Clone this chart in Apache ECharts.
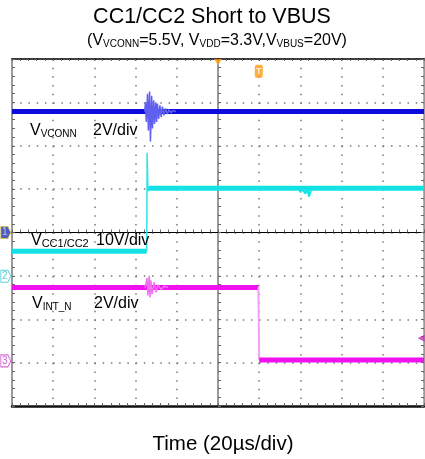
<!DOCTYPE html>
<html><head><meta charset="utf-8">
<script src="https://cdn.jsdelivr.net/npm/echarts@6/dist/echarts.min.js"></script>
<style>html,body{margin:0;padding:0;background:#fff}#c{width:425px;height:459px}</style>
</head><body><div id="c"></div>
<script>
// Axis ranges in divisions (10 x 8 graticule)
const xRange = [-5, 5];
const yRange = [-4, 4];
// V_VCONN trace (div units)
const vconnBase = [[-5, 2.79], [5, 2.79]];
const vconnBurst = [[-1.78,2.79],[-1.76,3.0],[-1.74,2.55],[-1.71,3.2],[-1.69,2.35],[-1.66,3.25],[-1.64,2.1],[-1.61,3.15],[-1.59,2.4],[-1.56,3.05],[-1.54,2.5],[-1.51,3.0],[-1.49,2.55],[-1.47,2.97],[-1.44,2.62],[-1.41,2.93],[-1.38,2.66],[-1.35,2.9],[-1.31,2.7],[-1.27,2.86],[-1.23,2.73],[-1.19,2.83],[-1.14,2.76],[-1.09,2.81],[-1.02,2.79]];
// V_CC1/CC2 trace
const ccLow = [[-5, -0.43], [-1.73, -0.43]];
const ccEdge = [[-1.73,-0.43],[-1.72,1.84],[-1.70,0.95],[-1.68,1.04]];
const ccHigh = [[-1.69,1.02],[5,1.02]];
const ccDip = [[1.97,1.02],[2.0,0.93],[2.04,1.0],[2.12,0.9],[2.17,1.0],[2.21,0.83],[2.25,0.97],[2.29,1.02]];
// V_INT_N trace
const intHigh = [[-5, -1.27], [0.98, -1.27]];
const intBurst = [[-1.77,-1.27],[-1.72,-1.05],[-1.70,-1.45],[-1.67,-1.0],[-1.65,-1.5],[-1.63,-1.1],[-1.60,-1.42],[-1.55,-1.15],[-1.50,-1.38],[-1.46,-1.2],[-1.38,-1.32],[-1.31,-1.24],[-1.21,-1.27]];
const intEdge = [[0.98,-1.27],[1.0,-2.94]];
const intLow = [[1.0,-2.94],[5,-2.94]];
// Scope markers
const channelMarkers = [[-5.15, 0, '1'], [-5.15, -1.01, '2'], [-5.15, -2.96, '3']];
const triggerPos = [[0, 4]];
const triggerLevel = [[0.99, 3.72]];
const refArrow = [[4.93, -2.44]];

const chart = echarts.init(document.getElementById('c'), null, {renderer: 'canvas'});
const FONT = '"Liberation Sans", Arial, sans-serif';

function baseAxis(extra) {
  return Object.assign({
    type: 'value', axisLabel: {show: false}, splitLine: {show: false}
  }, extra);
}
function line(data, color, width, z) {
  return {type: 'line', data: data, xAxisIndex: 0, yAxisIndex: 0, symbol: 'none', showSymbol: false,
    lineStyle: {color: color, width: width}, itemStyle: {color: color}, z: z, silent: true, animation: false, clip: true};
}
const tickStyle = {color: '#666', width: 1};

const option = {
  animation: false,
  grid: {left: 12, top: 59, width: 412, height: 347, show: false, outerBoundsMode: 'none', containLabel: false},
  xAxis: [
    baseAxis({min: xRange[0], max: xRange[1], interval: 1,
      axisLine: {onZero: true, onZeroAxisIndex: 0, lineStyle: {color: '#000', width: 1}},
      axisTick: {show: true, inside: true, length: 3, lineStyle: tickStyle},
      minorTick: {show: true, splitNumber: 5, length: 3, lineStyle: tickStyle},
      splitLine: {show: true, lineStyle: {color: '#777', width: 1.5, type: [1.5, 7.18]}}}),
    baseAxis({min: xRange[0], max: xRange[1], interval: 1, position: 'top',
      axisLine: {onZero: false, lineStyle: {color: '#000', width: 1.5}},
      axisTick: {show: true, inside: true, length: 2, lineStyle: tickStyle},
      minorTick: {show: true, splitNumber: 5, length: 2, lineStyle: tickStyle}}),
    baseAxis({min: xRange[0], max: xRange[1], interval: 1, position: 'bottom',
      axisLine: {onZero: false, lineStyle: {color: '#111', width: 2.5}},
      axisTick: {show: true, inside: true, length: 3, lineStyle: tickStyle},
      minorTick: {show: true, splitNumber: 5, length: 3, lineStyle: tickStyle}})
  ],
  yAxis: [
    baseAxis({min: yRange[0], max: yRange[1], interval: 1,
      axisLine: {onZero: true, onZeroAxisIndex: 0, lineStyle: {color: '#999', width: 2}},
      axisTick: {show: true, inside: true, length: 3, lineStyle: tickStyle},
      minorTick: {show: true, splitNumber: 5, length: 3, lineStyle: tickStyle},
      splitLine: {show: true, lineStyle: {color: '#777', width: 1.5, type: [1.5, 6.74]}}}),
    baseAxis({min: yRange[0], max: yRange[1], interval: 1, position: 'left',
      axisLine: {onZero: false, lineStyle: {color: '#999', width: 2}},
      axisTick: {show: true, inside: true, length: 3, lineStyle: tickStyle},
      minorTick: {show: true, splitNumber: 5, length: 3, lineStyle: tickStyle}}),
    baseAxis({min: yRange[0], max: yRange[1], interval: 1, position: 'right',
      axisLine: {onZero: false, lineStyle: {color: '#999', width: 2.5}},
      axisTick: {show: true, inside: true, length: 3, lineStyle: tickStyle},
      minorTick: {show: true, splitNumber: 5, length: 3, lineStyle: tickStyle}})
  ],
  series: [
    line(ccLow, '#12e2e6', 5, 3),
    line(ccEdge, '#30e4e8', 1.5, 3),
    line(ccHigh, '#12e2e6', 5, 3),
    line(ccDip, '#12e2e6', 2, 3),
    line(intHigh, '#f010f0', 5, 3),
    line(intBurst, '#f070f0', 1.5, 4),
    line(intEdge, '#f4a0f4', 2, 3),
    line(intLow, '#f010f0', 5, 3),
    line(vconnBase, '#0c0cdc', 5, 5),
    line(vconnBurst, '#6060f0', 1.5, 6),
    {type: 'scatter', xAxisIndex: 0, yAxisIndex: 0, clip: false, silent: true, z: 10,
      symbol: 'path://M0,0 L7,0 L10,6 L7,12 L0,12 Z', symbolSize: [10, 12],
      data: channelMarkers.map(function (m, i) {
        const styles = [
          {fill: '#2233aa', border: '#d8c040', text: '#d0dcff'},
          {fill: '#ffffff', border: '#30c8d8', text: '#30c0d0'},
          {fill: '#ffffff', border: '#d040d0', text: '#c030c0'}
        ][i];
        return {value: m, itemStyle: {color: styles.fill, borderColor: styles.border, borderWidth: 1},
          label: {show: true, position: 'inside', formatter: m[2], color: styles.text, fontSize: 10, fontFamily: FONT, offset: [-1, 0]}};
      })},
    {type: 'scatter', xAxisIndex: 0, yAxisIndex: 0, clip: false, silent: true, z: 10,
      symbol: 'triangle', symbolRotate: 180, symbolSize: [8, 6], symbolOffset: [0, 3],
      itemStyle: {color: '#ff9900'}, data: triggerPos},
    {type: 'scatter', xAxisIndex: 0, yAxisIndex: 0, clip: false, silent: true, z: 10,
      symbol: 'roundRect', symbolSize: [8, 13], itemStyle: {color: '#ff9a10'},
      label: {show: true, position: 'inside', formatter: 'T', color: '#fff', fontSize: 9, fontWeight: 'bold', fontFamily: FONT},
      data: triggerLevel},
    {type: 'scatter', xAxisIndex: 0, yAxisIndex: 0, clip: false, silent: true, z: 10,
      symbol: 'triangle', symbolRotate: 90, symbolSize: [7, 7], itemStyle: {color: '#c030c0'}, data: refArrow}
  ],
  graphic: [
    {type: 'text', x: 212, y: 17, z: 20, style: {text: 'CC1/CC2 Short to VBUS', font: '21.5px ' + FONT, fill: '#000',
      textAlign: 'center', textVerticalAlign: 'middle', align: 'center', verticalAlign: 'middle'}},
    {type: 'text', x: 217, y: 41, z: 20, style: {text: '(V{s|VCONN}=5.5V, V{s|VDD}=3.3V,V{s|VBUS}=20V)', font: '16px ' + FONT, fill: '#000',
      textAlign: 'center', textVerticalAlign: 'middle', align: 'center', verticalAlign: 'middle',
      rich: {s: {fontSize: 10, fontFamily: FONT, lineHeight: 8, verticalAlign: 'bottom', fill: '#000'}}}},
    {type: 'text', x: 30, y: 131, z: 20, style: {text: 'V{s|VCONN}', font: '16px ' + FONT, fill: '#000',
      textVerticalAlign: 'middle', verticalAlign: 'middle',
      rich: {s: {fontSize: 10, fontFamily: FONT, lineHeight: 8, verticalAlign: 'bottom', fill: '#000'}}}},
    {type: 'text', x: 93, y: 131, z: 20, style: {text: '2V/div', font: '16px ' + FONT, fill: '#000', textVerticalAlign: 'middle', verticalAlign: 'middle'}},
    {type: 'text', x: 31, y: 241, z: 20, style: {text: 'V{s|CC1/CC2}', font: '16px ' + FONT, fill: '#000',
      textVerticalAlign: 'middle', verticalAlign: 'middle',
      rich: {s: {fontSize: 11, fontFamily: FONT, lineHeight: 8, verticalAlign: 'bottom', fill: '#000'}}}},
    {type: 'text', x: 96, y: 241, z: 20, style: {text: '10V/div', font: '16px ' + FONT, fill: '#000', textVerticalAlign: 'middle', verticalAlign: 'middle'}},
    {type: 'text', x: 32, y: 304, z: 20, style: {text: 'V{s|INT_N}', font: '16px ' + FONT, fill: '#000',
      textVerticalAlign: 'middle', verticalAlign: 'middle',
      rich: {s: {fontSize: 10, fontFamily: FONT, lineHeight: 8, verticalAlign: 'bottom', fill: '#000'}}}},
    {type: 'text', x: 94, y: 304, z: 20, style: {text: '2V/div', font: '16px ' + FONT, fill: '#000', textVerticalAlign: 'middle', verticalAlign: 'middle'}},
    {type: 'text', x: 223, y: 444, z: 20, style: {text: 'Time (20µs/div)', font: '20.5px ' + FONT, fill: '#000',
      textAlign: 'center', textVerticalAlign: 'middle', align: 'center', verticalAlign: 'middle'}}
  ]
};
chart.setOption(option);
</script></body></html>
